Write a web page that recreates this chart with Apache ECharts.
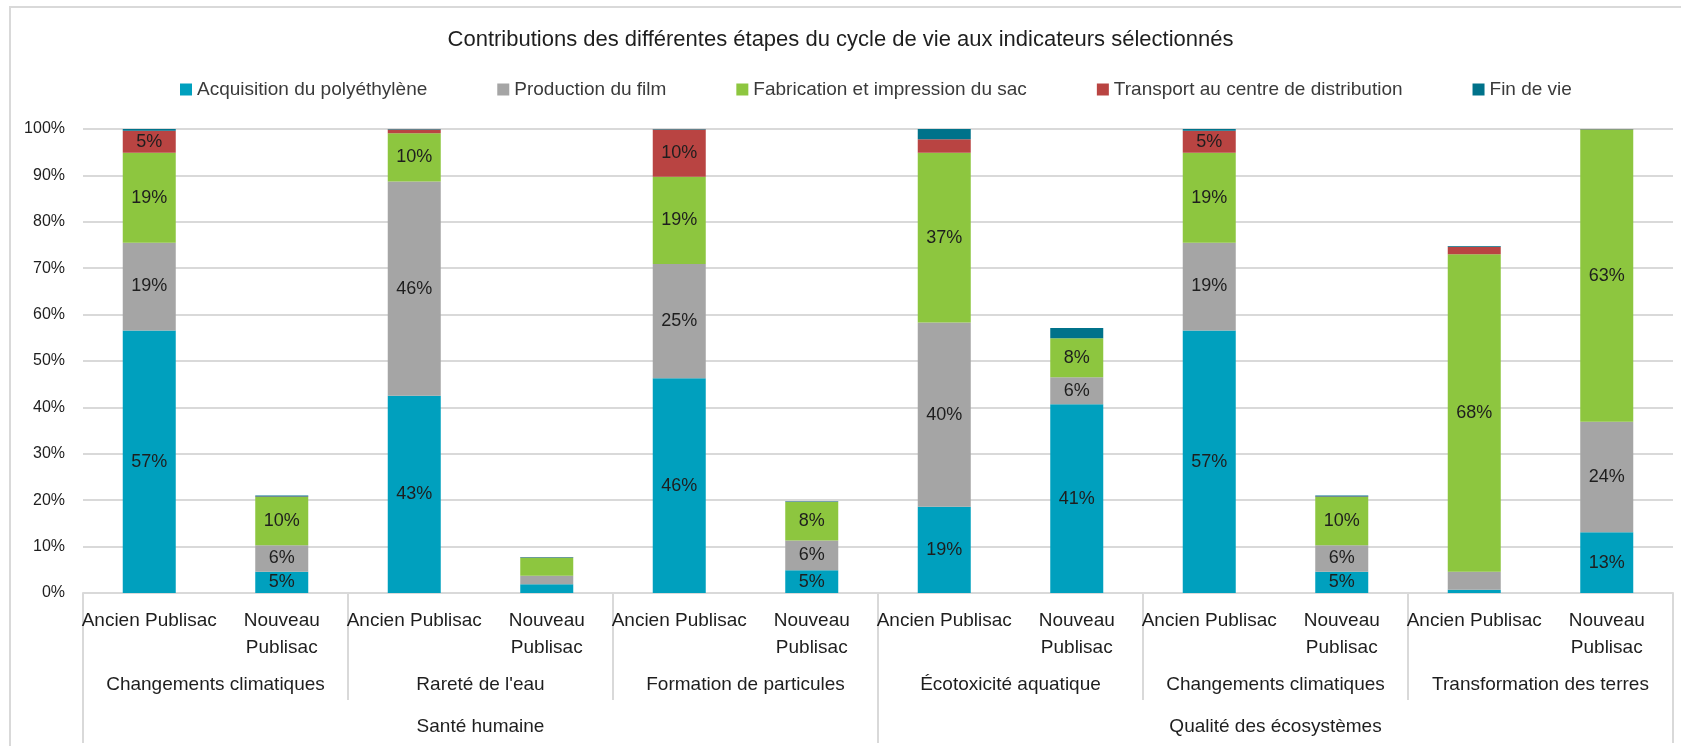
<!DOCTYPE html>
<html>
<head>
<meta charset="utf-8">
<title>Contributions des étapes du cycle de vie</title>
<script src="https://cdn.jsdelivr.net/npm/echarts@6/dist/echarts.min.js"></script>
<style>
  html, body { margin: 0; padding: 0; background: #fff; }
  #main { width: 1681px; height: 746px; }
</style>
</head>
<body>
<div id="main"></div>
<script>
// niveaux de l'axe des abscisses
const versions = ['Ancien Publisac', 'Nouveau Publisac', 'Ancien Publisac', 'Nouveau Publisac',
  'Ancien Publisac', 'Nouveau Publisac', 'Ancien Publisac', 'Nouveau Publisac',
  'Ancien Publisac', 'Nouveau Publisac', 'Ancien Publisac', 'Nouveau Publisac']
const indicateurs = ['Changements climatiques', "Rareté de l'eau", 'Formation de particules',
  'Écotoxicité aquatique', 'Changements climatiques', 'Transformation des terres']
const domaines = ['Santé humaine', 'Qualité des écosystèmes']

// contributions en %
const acquisition = [56.6, 4.6, 42.5, 1.9, 46.3, 4.9, 18.6, 40.7, 56.6, 4.6, 0.7, 13.1]
const productionFilm = [18.9, 5.7, 46.2, 1.8, 24.6, 6.4, 39.7, 5.8, 18.9, 5.7, 3.9, 23.8]
const fabrication = [19.4, 10.4, 10.4, 3.9, 18.8, 8.3, 36.6, 8.4, 19.4, 10.4, 68.4, 63.0]
const transport = [4.7, 0.1, 0.8, 0.05, 10.2, 0.05, 2.9, 0, 4.7, 0.1, 1.6, 0.05]
const finDeVie = [0.4, 0.2, 0.1, 0.1, 0.1, 0.15, 2.2, 2.2, 0.4, 0.2, 0.2, 0.1]

const yTicks = { min: 0, max: 100, interval: 10 }

const FONT = "'Liberation Sans', Arial, sans-serif"
const GRID_COLOR = '#D9D9D9'

const chart = echarts.init(document.getElementById('main'), null, { renderer: 'canvas' })

function barSeries(name, data, color) {
  return {
    name: name,
    type: 'bar',
    stack: 'total',
    xAxisIndex: 0,
    barWidth: '40%',
    data: data,
    itemStyle: { color: color },
    label: {
      show: true,
      position: 'inside',
      fontFamily: FONT,
      fontSize: 18,
      color: '#1e1e1e',
      formatter: p => p.value >= 4.5 ? Math.round(p.value) + '%' : ''
    }
  }
}

const option = {
  animation: false,
  textStyle: { fontFamily: FONT },
  title: {
    text: 'Contributions des différentes étapes du cycle de vie aux indicateurs sélectionnés',
    left: 'center',
    top: 24,
    textStyle: { fontFamily: FONT, fontSize: 22, fontWeight: 'normal', color: '#1e1e1e' }
  },
  legend: {
    top: 75,
    left: 175,
    itemWidth: 12,
    itemHeight: 12,
    itemGap: 70,
    icon: 'rect',
    textStyle: { fontFamily: FONT, fontSize: 19, color: '#3a3a3a' }
  },
  graphic: [{
    type: 'rect',
    shape: { x: 10, y: 7, width: 1700, height: 800 },
    style: { fill: 'none', stroke: GRID_COLOR, lineWidth: 2 },
    silent: true
  }],
  grid: { left: 83, right: 8, top: 129, bottom: 153 },
  yAxis: {
    type: 'value',
    min: yTicks.min,
    max: yTicks.max,
    interval: yTicks.interval,
    axisLabel: { formatter: '{value}%', fontFamily: FONT, fontSize: 16, color: '#1e1e1e', margin: 18 },
    axisLine: { show: false },
    axisTick: { show: false },
    splitLine: { lineStyle: { color: GRID_COLOR, width: 2 } }
  },
  xAxis: [{
    type: 'category',
    data: versions,
    position: 'bottom',
    axisLine: { lineStyle: { color: GRID_COLOR, width: 2 } },
    axisTick: { show: false },
    axisLabel: {
      interval: 0,
      margin: 14,
      fontFamily: FONT,
      fontSize: 19,
      lineHeight: 27,
      color: '#1e1e1e',
      formatter: v => v.indexOf('Nouveau') === 0 ? v.replace(' ', '\n') : v
    }
  }, {
    type: 'category',
    data: indicateurs,
    position: 'bottom',
    axisLine: { show: false },
    axisTick: { show: true, length: 107, lineStyle: { color: GRID_COLOR, width: 2 } },
    axisLabel: { interval: 0, margin: 81, fontFamily: FONT, fontSize: 19, lineHeight: 22, color: '#1e1e1e' }
  }, {
    type: 'category',
    data: domaines,
    position: 'bottom',
    axisLine: { show: false },
    axisTick: { show: true, length: 150, lineStyle: { color: GRID_COLOR, width: 2 } },
    axisLabel: { interval: 0, margin: 123, fontFamily: FONT, fontSize: 19, lineHeight: 22, color: '#1e1e1e' }
  }],
  series: [
    barSeries('Acquisition du polyéthylène', acquisition, '#00A0BE'),
    barSeries('Production du film', productionFilm, '#A5A5A5'),
    barSeries('Fabrication et impression du sac', fabrication, '#8DC63F'),
    barSeries('Transport au centre de distribution', transport, '#B94442'),
    barSeries('Fin de vie', finDeVie, '#00728A')
  ]
}

chart.setOption(option)
</script>
</body>
</html>
